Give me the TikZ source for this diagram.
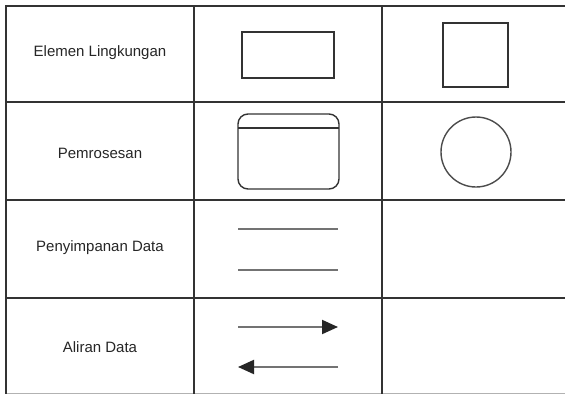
\documentclass[tikz,border=0pt]{standalone}
\usepackage{fontspec}
\setmainfont{Liberation Sans}
\usetikzlibrary{arrows.meta}
\begin{document}
\begin{tikzpicture}[x=1pt,y=-1pt,
  grid/.style={draw=black!80, line width=2pt},
  faint/.style={draw=black!30, line width=1pt},
  symbol/.style={draw=black!80, line width=1.4pt},
  storeline/.style={draw=black!55, line width=2pt},
  flow/.style={draw=black!55, line width=2pt, -{Triangle[length=16pt,width=14pt,color=black!85]}},
  label/.style={font=\fontsize{15}{18}\selectfont, text=black!85, inner sep=0pt}]
  \useasboundingbox (0,0) rectangle (565,394);
  \fill[white] (0,0) rectangle (565,394);

  % table rules
  \draw[faint] (6,393) -- (565,393);
  \draw[grid] (6,6) -- (565,6);
  \draw[grid] (6,102) -- (565,102);
  \draw[grid] (6,200) -- (565,200);
  \draw[grid] (6,298) -- (565,298);
  \draw[grid] (6,5) -- (6,394);
  \draw[grid] (194,5) -- (194,394);
  \draw[grid] (382,5) -- (382,394);

  % row labels
  \node[label] (t1) at (100,53) {Elemen Lingkungan};
  \node[label] (t2) at (100,153) {Pemrosesan};
  \node[label] (t3) at (100,248) {Penyimpanan Data};
  \node[label] (t4) at (100,347) {Aliran Data};

  % external entity
  \draw[symbol] (242,32) rectangle (334,78);
  \draw[symbol] (443,23) rectangle (508,87);

  % process
  \draw[symbol, rounded corners=10pt] (238,114) rectangle (339,189);
  \draw[symbol] (238,128) -- (339,128);
  \draw[symbol, draw=black!70] (476,152) circle (35);

  % data store
  \draw[storeline] (238,229) -- (338,229);
  \draw[storeline] (238,270) -- (338,270);

  % data flow
  \coordinate (f1a) at (238,327);
  \coordinate (f1b) at (338,327);
  \coordinate (f2a) at (338,367);
  \coordinate (f2b) at (238,367);
  \draw[flow] (f1a) -- (f1b);
  \draw[flow] (f2a) -- (f2b);
\end{tikzpicture}
\end{document}
